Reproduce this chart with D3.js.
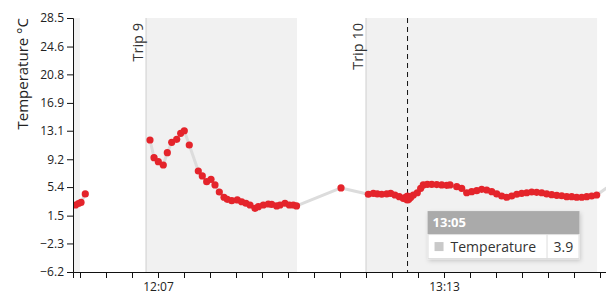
<!DOCTYPE html>
<html>
<head>
<meta charset="utf-8">
<script src="https://cdn.jsdelivr.net/npm/d3@7"></script>
<style>
  body { margin: 0; background: #fff; }
  svg { display: block; font-family: 'Open Sans', sans-serif; }
</style>
</head>
<body>
<svg id="chart" width="606" height="300"></svg>
<script>
const parseTime = d3.timeParse('%H:%M:%S')

// trips, drawn as shaded bands
const tripNames = ['Trip 8', 'Trip 9', 'Trip 10']
const tripStarts = ['11:30:00', '12:04:14', '12:55:00']
const tripEnds = ['11:49:00', '12:39:05', '13:48:20']

// temperature readings (°C)
const trip8Times = ['11:47:58', '11:48:39']
const trip8Temps = [2.95, 3.16]

const trip9Times = ['12:05:09', '12:06:05', '12:07:04', '12:08:13', '12:09:09', '12:10:10', '12:11:19', '12:12:14',
  '12:13:04', '12:14:13', '12:16:18', '12:17:13', '12:18:14', '12:19:14', '12:20:09', '12:21:09', '12:22:14',
  '12:22:59', '12:24:01', '12:25:18', '12:26:19', '12:27:18', '12:28:14', '12:29:23', '12:30:09', '12:31:18',
  '12:32:27', '12:33:14', '12:34:23', '12:35:09', '12:36:18', '12:37:18', '12:38:13', '12:38:58']
const trip9Temps = [11.83, 9.42, 8.87, 8.42, 10.1, 11.52, 11.93, 12.75, 13.1, 11.15, 7.6, 6.92, 6.14, 6.46, 5.69,
  4.73, 4.01, 3.73, 3.54, 3.64, 3.4, 3.19, 2.95, 2.5, 2.72, 2.95, 3.09, 3.05, 2.82, 2.95, 3.19, 2.95, 2.95, 2.82]

const trip10Times = ['12:55:32', '12:56:41', '12:57:36', '12:58:37', '12:59:47', '13:00:42', '13:01:41', '13:02:41',
  '13:03:36', '13:04:35', '13:05:20', '13:05:55', '13:06:50', '13:07:37', '13:08:13', '13:09:09', '13:10:10',
  '13:11:19', '13:12:28', '13:13:37', '13:14:23', '13:15:56', '13:17:05', '13:18:14', '13:19:23', '13:20:33',
  '13:21:42', '13:22:51', '13:24:01', '13:25:10', '13:26:19', '13:27:28', '13:28:37', '13:29:47', '13:30:56',
  '13:32:05', '13:33:14', '13:34:23', '13:35:33', '13:36:42', '13:37:51', '13:39:01', '13:40:10', '13:41:19',
  '13:42:28', '13:43:37', '13:44:47', '13:45:56', '13:47:05', '13:48:14']
const trip10Temps = [4.42, 4.55, 4.46, 4.42, 4.46, 4.55, 4.32, 4.09, 3.87, 3.9, 4.01, 4.32, 4.63, 5.23, 5.69, 5.78,
  5.78, 5.75, 5.69, 5.64, 5.69, 5.45, 5.23, 4.63, 4.77, 4.91, 5.1, 5.0, 4.77, 4.46, 4.18, 4.01, 4.18, 4.42, 4.55,
  4.63, 4.73, 4.69, 4.63, 4.46, 4.36, 4.28, 4.22, 4.09, 4.09, 4.01, 4.01, 4.09, 4.18, 4.32]

// readings taken outside of a trip
const idleTimes = ['11:49:14', '11:50:13', '12:49:14', '13:51:46']
const idleTemps = [3.3, 4.46, 5.28, 5.82]

const yTicks = [-6.2, -2.3, 1.5, 5.4, 9.2, 13.1, 16.9, 20.8, 24.6, 28.5]
const xTickLabels = ['12:07', '13:13']
const hoverTime = '13:04:35'

const width = 606
const plotTop = 18
const plotBottom = 272
const plotLeft = 73
const red = '#e4242b'

const svg = d3.select('#chart')

const x = d3.scaleTime()
  .domain([parseTime('11:47:23'), parseTime('13:50:23')])
  .range([plotLeft, width])
const y = d3.scaleLinear()
  .domain([-6.2, 28.5])
  .range([plotBottom, plotTop])

const readings = []
const addReadings = (times, temps) => times.forEach((t, i) => readings.push({ time: parseTime(t), temp: temps[i] }))
addReadings(trip8Times, trip8Temps)
addReadings(trip9Times, trip9Temps)
addReadings(trip10Times, trip10Temps)
addReadings(idleTimes, idleTemps)
readings.sort((a, b) => a.time - b.time)

// break the line where readings are more than 12 minutes apart
const segments = []
readings.forEach((d, i) => {
  if (i === 0 || d.time - readings[i - 1].time > 12 * 60000) segments.push([])
  segments[segments.length - 1].push(d)
})

const trips = tripNames.map((name, i) => ({ name, start: parseTime(tripStarts[i]), end: parseTime(tripEnds[i]) }))

const defs = svg.append('defs')
defs.append('clipPath').attr('id', 'plot-clip')
  .append('rect')
  .attr('x', plotLeft)
  .attr('y', plotTop)
  .attr('width', width - plotLeft)
  .attr('height', plotBottom - plotTop)

const shadow = defs.append('filter').attr('id', 'tip-shadow')
  .attr('x', '-10%').attr('y', '-10%').attr('width', '130%').attr('height', '140%')
shadow.append('feDropShadow')
  .attr('dx', 1).attr('dy', 2).attr('stdDeviation', 2)
  .attr('flood-color', '#000').attr('flood-opacity', 0.18)

const plotG = svg.append('g').attr('clip-path', 'url(#plot-clip)')

// trip bands
plotG.selectAll('rect.band')
  .data(trips)
  .enter()
  .append('rect')
  .attr('class', 'band')
  .attr('x', d => Math.max(x(d.start), plotLeft))
  .attr('y', plotTop)
  .attr('width', d => x(d.end) - Math.max(x(d.start), plotLeft))
  .attr('height', plotBottom - plotTop)
  .attr('fill', '#f1f1f1')

const visibleTrips = trips.filter(d => x(d.start) > plotLeft)
plotG.selectAll('line.trip-start')
  .data(visibleTrips)
  .enter()
  .append('line')
  .attr('class', 'trip-start')
  .attr('x1', d => x(d.start))
  .attr('x2', d => x(d.start))
  .attr('y1', plotTop)
  .attr('y2', plotBottom)
  .attr('stroke', '#cfcfcf')
  .attr('stroke-width', 1)

svg.selectAll('text.trip-label')
  .data(visibleTrips)
  .enter()
  .append('text')
  .attr('class', 'trip-label')
  .attr('transform', d => `translate(${x(d.start) - 3},${plotTop + 5}) rotate(-90)`)
  .attr('text-anchor', 'end')
  .attr('font-size', 14.5)
  .attr('fill', '#333')
  .text(d => d.name)

// hover marker
const hovered = readings.find(d => +d.time === +parseTime(hoverTime))
const hx = x(hovered.time)
const hy = y(hovered.temp)

plotG.append('line')
  .attr('x1', hx)
  .attr('x2', hx)
  .attr('y1', plotTop)
  .attr('y2', plotBottom)
  .attr('stroke', '#111')
  .attr('stroke-width', 1)
  .attr('stroke-dasharray', '5,4')

const line = d3.line().x(d => x(d.time)).y(d => y(d.temp))
plotG.selectAll('path.temp')
  .data(segments)
  .enter()
  .append('path')
  .attr('class', 'temp')
  .attr('d', line)
  .attr('fill', 'none')
  .attr('stroke', '#dcdcdc')
  .attr('stroke-width', 3)
  .attr('stroke-linejoin', 'round')

plotG.selectAll('circle')
  .data(readings)
  .enter()
  .append('circle')
  .attr('cx', d => x(d.time))
  .attr('cy', d => y(d.temp))
  .attr('r', d => d === hovered ? 5.5 : 3.6)
  .attr('fill', red)

// axes
const yAxis = d3.axisLeft(y)
  .tickValues(yTicks)
  .tickSize(6)
  .tickPadding(3)
  .tickFormat(d3.format('.1f'))
svg.append('g')
  .attr('transform', `translate(${plotLeft},0)`)
  .call(yAxis)

const fmt = d3.timeFormat('%H:%M')
const xTicks = d3.timeMinute.range(parseTime('11:49:00'), parseTime('13:52:00'), 6)
const xAxis = d3.axisBottom(x)
  .tickValues(xTicks)
  .tickSize(6)
  .tickPadding(4)
  .tickFormat(d => xTickLabels.includes(fmt(d)) ? fmt(d) : '')
svg.append('g')
  .attr('transform', `translate(0,${plotBottom})`)
  .call(xAxis)

svg.selectAll('.tick text')
  .attr('font-family', "'Open Sans', sans-serif")
  .attr('font-size', 12)
  .attr('fill', '#222')
svg.selectAll('.domain, .tick line').attr('stroke', '#111')

svg.append('text')
  .attr('transform', `translate(28,${plotTop}) rotate(-90)`)
  .attr('text-anchor', 'end')
  .attr('font-size', 15)
  .attr('fill', '#222')
  .text('Temperature °C')

// tooltip
const tipW = 152
const tipG = svg.append('g')
  .attr('transform', `translate(${hx + 20},${hy + 13})`)
tipG.append('rect')
  .attr('width', tipW)
  .attr('height', 48)
  .attr('fill', '#fff')
  .attr('filter', 'url(#tip-shadow)')
tipG.append('rect')
  .attr('width', tipW)
  .attr('height', 23)
  .attr('fill', '#aaaaaa')
tipG.append('rect')
  .attr('x', 0.5)
  .attr('y', 23.5)
  .attr('width', tipW - 1)
  .attr('height', 24)
  .attr('fill', '#fff')
  .attr('stroke', '#dddddd')
tipG.append('text')
  .attr('x', 5)
  .attr('y', 16)
  .attr('font-size', 13)
  .attr('font-weight', 'bold')
  .attr('fill', '#fff')
  .text(fmt(d3.timeMinute.round(hovered.time)))
tipG.append('rect')
  .attr('x', 7)
  .attr('y', 31)
  .attr('width', 9)
  .attr('height', 9)
  .attr('fill', '#c9c9c9')
tipG.append('text')
  .attr('x', 23)
  .attr('y', 41)
  .attr('font-size', 14)
  .attr('fill', '#333')
  .text('Temperature')
tipG.append('line')
  .attr('x1', 119.5)
  .attr('x2', 119.5)
  .attr('y1', 23)
  .attr('y2', 48)
  .attr('stroke', '#dddddd')
tipG.append('text')
  .attr('x', 126)
  .attr('y', 41)
  .attr('font-size', 14)
  .attr('fill', '#333')
  .text(hovered.temp)
</script>
</body>
</html>
